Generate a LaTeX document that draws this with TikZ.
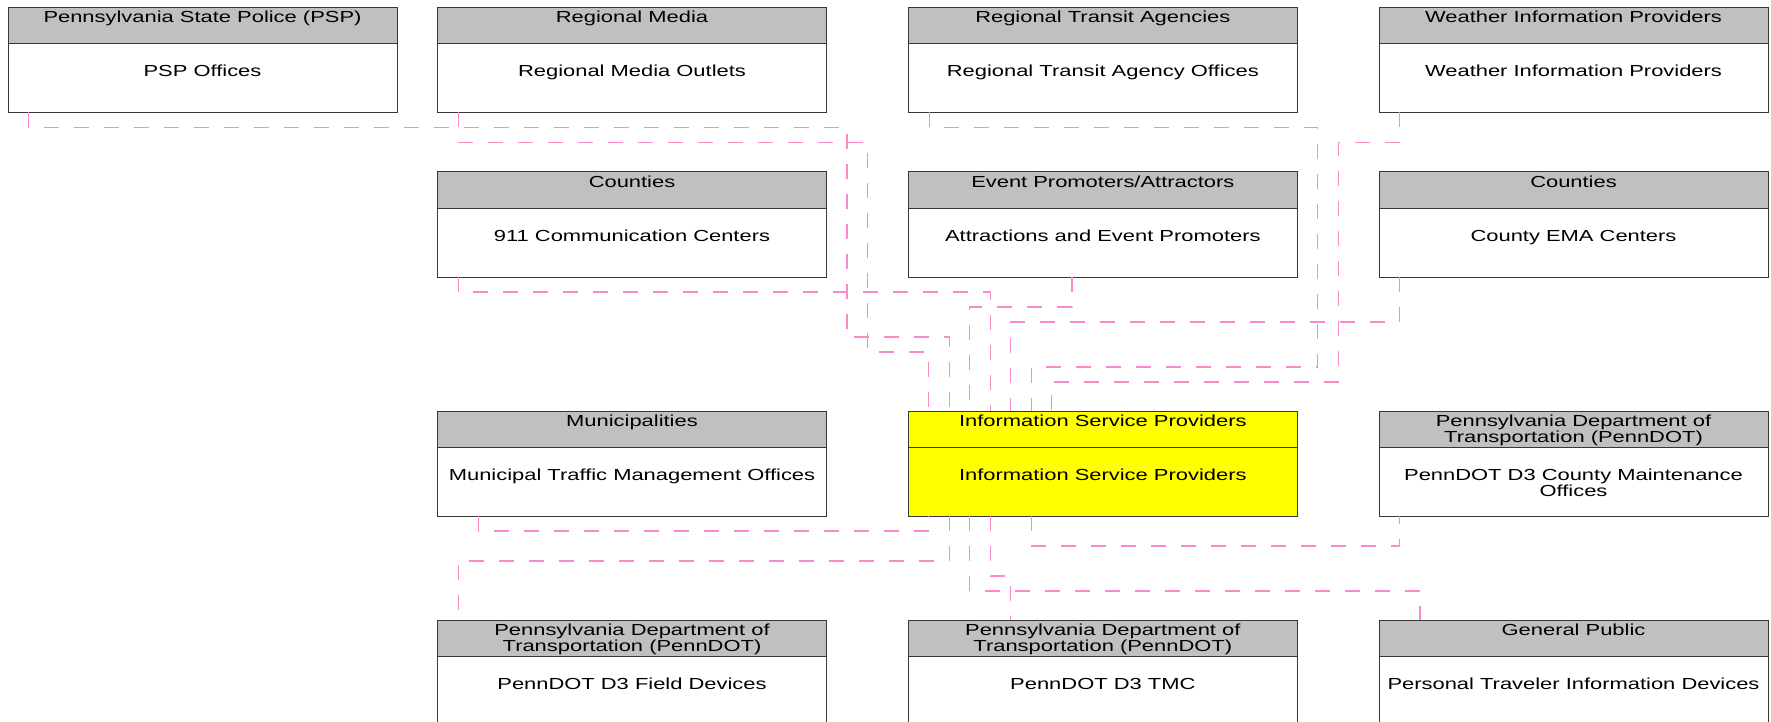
\documentclass[tikz,border=0pt]{standalone}
\usepackage{fontspec}
\setmainfont{Liberation Sans}
\usepackage{graphicx}
\usetikzlibrary{calc}
\definecolor{linkpink}{RGB}{255,136,200}
\definecolor{hdrgray}{RGB}{192,192,192}
\definecolor{edgegray}{RGB}{55,55,55}
\definecolor{ispyellow}{RGB}{255,255,0}
\newcommand\sxt[1]{\scalebox{1.37}[1]{\begin{tabular}[t]{@{}c@{}}#1\end{tabular}}}
\tikzset{
  entitybox/.style={draw=edgegray, line width=1pt, rectangle, minimum width=389pt,
    minimum height=105pt, inner sep=0pt, outer sep=0pt, anchor=north west},
  hdrbox/.style={draw=edgegray, line width=1pt},
  lbl/.style={inner sep=0pt, outer sep=0pt, anchor=base, font={\fontsize{16}{16.7}\selectfont}},
  link/.style={draw=linkpink, line width=1.1pt, dash pattern=on 15pt off 15pt},
}
\newcommand\entity[7]{%
  \node[entitybox, fill=#6] (#1) at (#2,#3) {};
  \filldraw[hdrbox, fill=#7] (#1.north west) rectangle ([yshift=-36pt]#1.north east);
  \node[lbl] (#1-hd) at ([yshift=-15pt]#1.north) {\sxt{#4}};
  \node[lbl] (#1-bd) at ([yshift=-69pt]#1.north) {\sxt{#5}};
}
\begin{document}
\begin{tikzpicture}[x=1pt, y=-1pt]
\useasboundingbox (0,0) rectangle (1771,722);
\fill[white] (0,0) rectangle (1771,722);
\clip (0,0) rectangle (1771,722);

% row 1
\entity{psp}{8}{7.5}{Pennsylvania State Police (PSP)}{PSP Offices}{white}{hdrgray}
\entity{media}{437.5}{7.5}{Regional Media}{Regional Media Outlets}{white}{hdrgray}
\entity{transit}{908.3}{7.5}{Regional Transit Agencies}{Regional Transit Agency Offices}{white}{hdrgray}
\entity{weather}{1379}{7.5}{Weather Information Providers}{Weather Information Providers}{white}{hdrgray}
% row 2
\entity{cnty}{437.5}{172}{Counties}{911 Communication Centers}{white}{hdrgray}
\entity{event}{908.3}{172}{Event Promoters/Attractors}{Attractions and Event Promoters}{white}{hdrgray}
\entity{ema}{1379}{172}{Counties}{County EMA Centers}{white}{hdrgray}
% row 3
\entity{muni}{437.5}{411}{Municipalities}{Municipal Traffic Management Offices}{white}{hdrgray}
\entity{isp}{908.3}{411}{Information Service Providers}{Information Service Providers}{ispyellow}{ispyellow}
\entity{pcm}{1379}{411}{Pennsylvania Department of\\Transportation (PennDOT)}{PennDOT D3 County Maintenance\\Offices}{white}{hdrgray}
% row 4
\entity{fd}{437.5}{620}{Pennsylvania Department of\\Transportation (PennDOT)}{PennDOT D3 Field Devices}{white}{hdrgray}
\entity{tmc}{908.3}{620}{Pennsylvania Department of\\Transportation (PennDOT)}{PennDOT D3 TMC}{white}{hdrgray}
\entity{gp}{1379}{620}{General Public}{Personal Traveler Information Devices}{white}{hdrgray}

% connectors into top of ISP
\draw[link] ([xshift=20.5pt]psp.south west) |- (847,127.5) -- (847,337) -| ([xshift=41pt]isp.north west);
\draw[link] ([xshift=20.8pt]media.south west) |- (867.6,142.5) -- (867.6,352) -| ([xshift=20.5pt]isp.north west);
\draw[link] ([xshift=20.9pt]transit.south west) |- (1317.7,127.5) -- (1317.7,367) -| ([xshift=123pt]isp.north west);
\draw[link] ([xshift=20.5pt]weather.south west) |- (1338.3,142.5) -- (1338.3,382) -| ([xshift=143.5pt]isp.north west);
\draw[link] ([xshift=20.8pt]cnty.south west) -- ++(0,15) -| ([xshift=82pt]isp.north west);
\draw[link] ([xshift=163.7pt]event.south west) -- ++(0,30) -| ([xshift=61.5pt]isp.north west);
\draw[link] ([xshift=20.5pt]ema.south west) -- ++(0,45) -| ([xshift=102.5pt]isp.north west);

% connectors from bottom of ISP
\draw[link] ([xshift=41pt]muni.south west) -- ++(0,15) -| ([xshift=20.5pt]isp.south west);
\draw[link] ([xshift=41pt]isp.south west) -- ++(0,45) -| ([xshift=20.8pt]fd.north west);
\draw[link] ([xshift=123pt]isp.south west) -- ++(0,30) -| ([xshift=20.5pt]pcm.south west);
\draw[link] ([xshift=82pt]isp.south west) -- ++(0,60) -| ([xshift=102.5pt]tmc.north west);
\draw[link] ([xshift=61.5pt]isp.south west) -- ++(0,75) -| ([xshift=41pt]gp.north west);
\end{tikzpicture}
\end{document}
